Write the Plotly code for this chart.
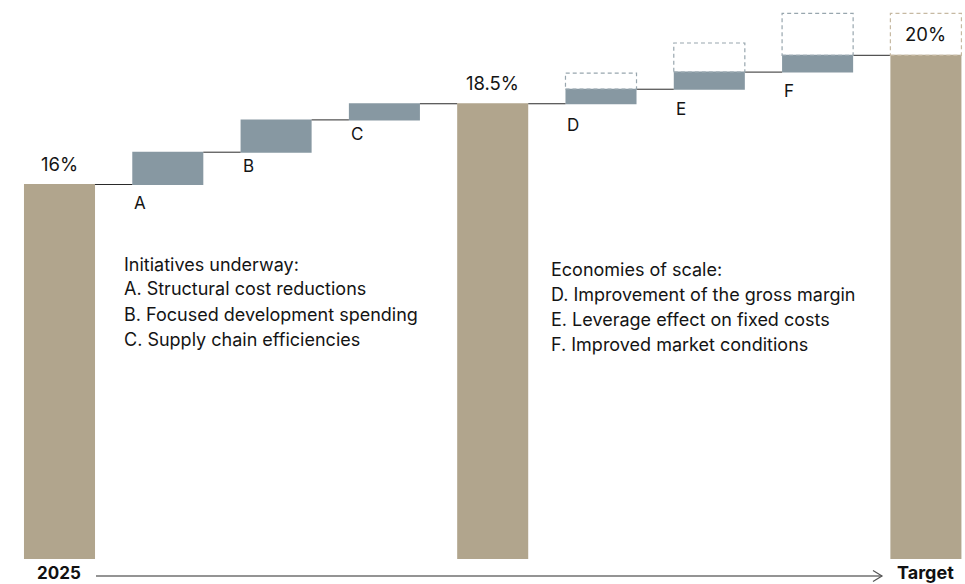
import plotly.graph_objects as go

# --- data -------------------------------------------------------------
categories = ["2025", "A", "B", "C", "Interim", "D", "E", "F", "Target"]
measures = ["absolute", "relative", "relative", "relative", "total",
            "relative", "relative", "relative", "total"]
steps = [16.0, 1.0, 1.0, 0.5, 0.0, 0.45, 0.53, 0.52, 0.0]
total_labels = {0: "16%", 4: "18.5%", 8: "20%"}
step_letters = ["A", "B", "C", "D", "E", "F"]
# additional potential (dashed outline) above D, E, F and the target
upside = {5: 0.5, 6: 0.9, 7: 1.3, 8: 1.3}

block_left = ["Initiatives underway:",
              "A. Structural cost reductions",
              "B. Focused development spending",
              "C. Supply chain efficiencies"]
block_right = ["Economies of scale:",
               "D. Improvement of the gross margin",
               "E. Leverage effect on fixed costs",
               "F. Improved market conditions"]
axis_start, axis_end = "2025", "Target"

# --- style ------------------------------------------------------------
W, H = 965, 584
PLOT_H = 559
TAN = "#b1a58d"
SLATE = "#8798a2"
SLATE_DASH = "#98a6ae"
TAN_DASH = "#c6b9a2"
INK = "#141414"
FONT = "Inter"
BAR_W = 0.656
Y_RANGE = [4.406, 21.712]
X_RANGE = [-0.5494, 8.361]
letter_shift = [-18, -14, -14, -21, -20, -19]


def py(pixel_y):
    """pixel row -> paper y"""
    return (PLOT_H - pixel_y) / PLOT_H


def px(pixel_x):
    return pixel_x / W


# running totals
tops, bottoms = [], []
run = 0.0
for m, v in zip(measures, steps):
    if m == "absolute":
        bottoms.append(0.0)
        run = v
    elif m == "total":
        bottoms.append(0.0)
    else:
        bottoms.append(run)
        run += v
    tops.append(run)

fig = go.Figure()
fig.add_trace(go.Waterfall(
    x=categories,
    y=steps,
    measure=measures,
    width=BAR_W,
    increasing=dict(marker=dict(color=SLATE)),
    totals=dict(marker=dict(color=TAN)),
    connector=dict(mode="between", line=dict(color="#2a2a2a", width=1)),
    hoverinfo="skip",
    showlegend=False,
))

shapes = []
for i, extra in upside.items():
    shapes.append(dict(
        type="rect", xref="x", yref="y",
        x0=i - BAR_W / 2, x1=i + BAR_W / 2,
        y0=tops[i], y1=tops[i] + extra,
        line=dict(color=TAN_DASH if measures[i] == "total" else SLATE_DASH,
                  width=1.2, dash="4px,3px"),
        fillcolor="rgba(0,0,0,0)", layer="above",
    ))

annotations = []
for i, txt in total_labels.items():
    annotations.append(dict(
        x=i, y=tops[i], xref="x", yref="y", text=txt, showarrow=False,
        yanchor="middle", yshift=21,
        font=dict(family=FONT, size=18.5, color=INK),
    ))

rel_idx = [i for i, m in enumerate(measures) if m == "relative"]
for k, (i, letter) in enumerate(zip(rel_idx, step_letters)):
    annotations.append(dict(
        x=i - BAR_W / 2, y=bottoms[i], xref="x", yref="y", text=letter,
        showarrow=False, xanchor="left", yanchor="middle",
        yshift=letter_shift[k], xshift=0,
        font=dict(family=FONT, size=17, color=INK),
    ))

for lines, x0, y0 in ((block_left, 122, 264), (block_right, 549, 269)):
    for j, line in enumerate(lines):
        annotations.append(dict(
            x=px(x0), y=py(y0 + 25 * j), xref="paper", yref="paper",
            text=line, showarrow=False, xanchor="left", yanchor="middle",
            font=dict(family=FONT, size=18, color=INK),
        ))

# timeline along the bottom
annotations.append(dict(
    x=px(35), y=py(573), xref="paper", yref="paper", text=f"<b>{axis_start}</b>",
    showarrow=False, xanchor="left", yanchor="middle",
    font=dict(family=FONT, size=17, color="#111"),
))
annotations.append(dict(
    x=px(895), y=py(572), xref="paper", yref="paper", text=f"<b>{axis_end}</b>",
    showarrow=False, xanchor="left", yanchor="middle",
    font=dict(family=FONT, size=18, color="#111"),
))
shapes.append(dict(
    type="line", xref="paper", yref="paper",
    x0=px(96), x1=px(882), y0=py(576), y1=py(576),
    line=dict(color="#707070", width=1.3),
))
shapes.append(dict(
    type="path", xref="paper", yref="paper",
    path=f"M {px(873)},{py(570.5)} L {px(882)},{py(576)} L {px(873)},{py(581.5)}",
    line=dict(color="#555", width=1.2),
))

fig.update_layout(
    width=W, height=H,
    margin=dict(l=0, r=0, t=0, b=H - PLOT_H, pad=0),
    paper_bgcolor="white", plot_bgcolor="white",
    xaxis=dict(type="category", range=X_RANGE, visible=False, fixedrange=True),
    yaxis=dict(range=Y_RANGE, visible=False, fixedrange=True),
    shapes=shapes, annotations=annotations,
    font=dict(family=FONT),
    showlegend=False,
)

fig.write_html("out.html", config=dict(displayModeBar=False))
